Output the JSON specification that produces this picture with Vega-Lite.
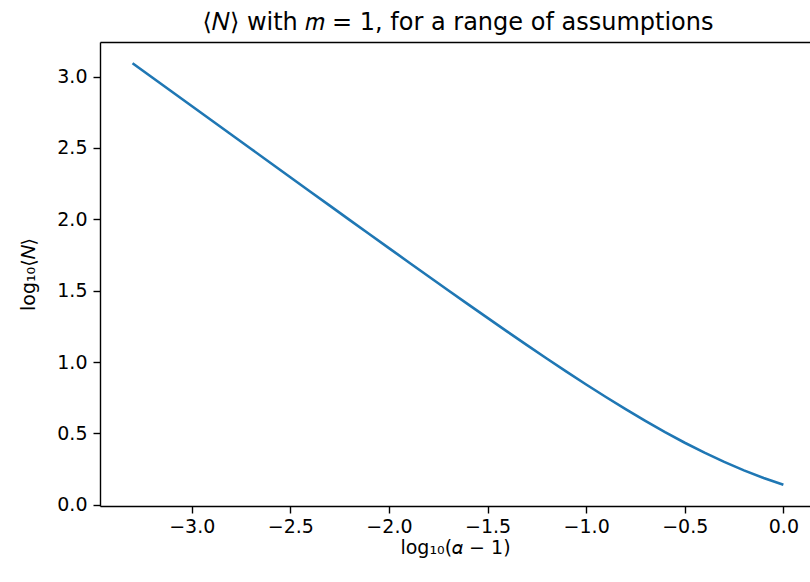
{
  "$schema": "https://vega.github.io/schema/vega-lite/v6.json",
  "autosize": {"type": "none"},
  "padding": {"left": 100, "top": 42, "right": 0, "bottom": 76},
  "width": 710,
  "height": 464,
  "background": "white",
  "title": {
    "text": "⟨𝑁⟩ with 𝑚 = 1, for a range of assumptions",
    "font": "DejaVu Sans",
    "fontSize": 24,
    "fontWeight": "normal",
    "color": "black",
    "offset": 7,
    "dx": 3
  },
  "config": {
    "view": {"stroke": null},
    "axis": {
      "grid": false,
      "domainColor": "black",
      "domainWidth": 1.4,
      "tickColor": "black",
      "tickWidth": 1.4,
      "tickSize": 7,
      "labelFont": "DejaVu Sans",
      "labelFontSize": 19,
      "labelColor": "black",
      "labelPadding": 6,
      "titleFont": "DejaVu Sans",
      "titleFontSize": 19,
      "titleFontWeight": "normal",
      "titleColor": "black"
    }
  },
  "data": {
    "values": [
      {"x": -3.3, "y": 3.0934},
      {"x": -3.2, "y": 2.9934},
      {"x": -3.1, "y": 2.8935},
      {"x": -3.0, "y": 2.7936},
      {"x": -2.9, "y": 2.6937},
      {"x": -2.8, "y": 2.5939},
      {"x": -2.7, "y": 2.4942},
      {"x": -2.6, "y": 2.3945},
      {"x": -2.5, "y": 2.2947},
      {"x": -2.4, "y": 2.1953},
      {"x": -2.3, "y": 2.0956},
      {"x": -2.2, "y": 1.9965},
      {"x": -2.1, "y": 1.8971},
      {"x": -2.0, "y": 1.7984},
      {"x": -1.9, "y": 1.6997},
      {"x": -1.8, "y": 1.6014},
      {"x": -1.7, "y": 1.5035},
      {"x": -1.6, "y": 1.4063},
      {"x": -1.5, "y": 1.3096},
      {"x": -1.4, "y": 1.2138},
      {"x": -1.3, "y": 1.1189},
      {"x": -1.2, "y": 1.0254},
      {"x": -1.1, "y": 0.9335},
      {"x": -1.0, "y": 0.8432},
      {"x": -0.9, "y": 0.7553},
      {"x": -0.8, "y": 0.6701},
      {"x": -0.7, "y": 0.588},
      {"x": -0.6, "y": 0.5095},
      {"x": -0.5, "y": 0.4352},
      {"x": -0.4, "y": 0.3655},
      {"x": -0.3, "y": 0.3008},
      {"x": -0.2, "y": 0.2416},
      {"x": -0.1, "y": 0.1881},
      {"x": 0.0, "y": 0.1402}
    ]
  },
  "layer": [
    {
      "mark": {"type": "line", "color": "#1f77b4", "strokeWidth": 2.6},
      "encoding": {
        "x": {
          "field": "x", "type": "quantitative",
          "scale": {"domain": [-3.465, 0.135], "nice": false, "zero": false},
          "axis": {
            "title": "log₁₀(𝛼 − 1)",
            "values": [-3, -2.5, -2, -1.5, -1, -0.5, 0],
            "format": ".1f",
            "labelPadding": 4,
            "titlePadding": 2
          }
        },
        "y": {
          "field": "y", "type": "quantitative",
          "scale": {"domain": [-0.008, 3.242], "nice": false, "zero": false},
          "axis": {
            "title": "log₁₀⟨𝑁⟩",
            "values": [0, 0.5, 1, 1.5, 2, 2.5, 3],
            "format": ".1f",
            "titlePadding": 18
          }
        }
      }
    },
    {
      "mark": {"type": "line", "opacity": 0},
      "encoding": {
        "x": {
          "field": "x", "type": "quantitative",
          "scale": {"domain": [-3.465, 0.135], "nice": false, "zero": false},
          "axis": {"orient": "top", "labels": false, "ticks": false, "title": null}
        },
        "y": {"field": "y", "type": "quantitative"}
      }
    }
  ],
  "resolve": {"axis": {"x": "independent"}}
}
